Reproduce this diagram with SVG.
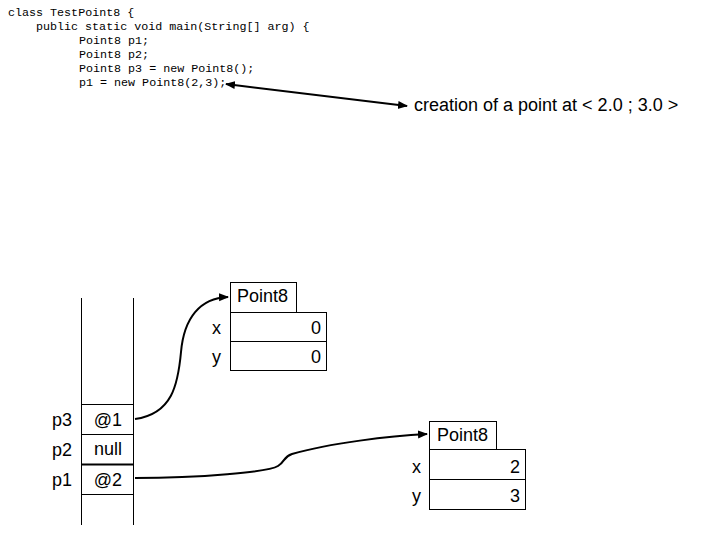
<svg xmlns="http://www.w3.org/2000/svg" width="720" height="540" viewBox="0 0 720 540">
<style>
.code{font-family:"Liberation Mono","Courier New",monospace;font-size:11.7px;fill:#000}
.t{font-family:"Liberation Sans",Arial,sans-serif;font-size:18px;fill:#000}
.box{fill:#fff;stroke:#000;stroke-width:1}
.ln{fill:none;stroke:#000;stroke-width:2}
</style>
<defs>
<marker id="ah" viewBox="0 0 10 10" refX="9" refY="5" markerWidth="5" markerHeight="5" orient="auto-start-reverse"><path d="M0,1 L10,5 L0,9 z" fill="#000"/></marker>
</defs>
<rect width="720" height="540" fill="#fff"/>
<g id="code">
<text class="code" x="8" y="16">class TestPoint8 {</text>
<text class="code" x="36" y="30">public static void main(String[] arg) {</text>
<text class="code" x="79" y="44">Point8 p1;</text>
<text class="code" x="79" y="58">Point8 p2;</text>
<text class="code" x="79" y="72">Point8 p3 = new Point8();</text>
<text class="code" x="79" y="86">p1 = new Point8(2,3);</text>
</g>
<g id="note">
<text class="t" x="414" y="111">creation of a point at &lt; 2.0 ; 3.0 &gt;</text>
</g>
<g id="stack">
<line x1="81.5" y1="298" x2="81.5" y2="525" stroke="#000"/>
<line x1="133.5" y1="298" x2="133.5" y2="525" stroke="#000"/>
<line x1="81.5" y1="404.5" x2="133.5" y2="404.5" stroke="#000"/>
<line x1="81.5" y1="434.5" x2="133.5" y2="434.5" stroke="#000"/>
<line x1="81.5" y1="464.5" x2="133.5" y2="464.5" stroke="#000" stroke-width="2"/>
<line x1="81.5" y1="494.5" x2="133.5" y2="494.5" stroke="#000"/>
<text class="t" x="52" y="426">p3</text>
<text class="t" x="52" y="456">p2</text>
<text class="t" x="52" y="486">p1</text>
<text class="t" x="108" y="426" text-anchor="middle">@1</text>
<text class="t" x="108" y="455" text-anchor="middle">null</text>
<text class="t" x="108" y="486" text-anchor="middle">@2</text>
</g>
<g id="point1">
<rect class="box" x="230.5" y="282.5" width="66" height="30"/>
<rect class="box" x="230.5" y="312.5" width="96" height="29"/>
<rect class="box" x="230.5" y="341.5" width="96" height="29"/>
<text class="t" x="237" y="302">Point8</text>
<text class="t" x="212" y="334">x</text>
<text class="t" x="212" y="363">y</text>
<text class="t" x="321" y="334" text-anchor="end">0</text>
<text class="t" x="321" y="363" text-anchor="end">0</text>
</g>
<g id="point2">
<rect class="box" x="429.5" y="421.5" width="67" height="28"/>
<rect class="box" x="429.5" y="449.5" width="96" height="30"/>
<rect class="box" x="429.5" y="479.5" width="96" height="30"/>
<text class="t" x="437" y="441">Point8</text>
<text class="t" x="412" y="473">x</text>
<text class="t" x="412" y="502">y</text>
<text class="t" x="520" y="473" text-anchor="end">2</text>
<text class="t" x="520" y="502" text-anchor="end">3</text>
</g>
<g id="connectors">
<path class="ln" d="M226,84 L407,106" marker-start="url(#ah)" marker-end="url(#ah)"/>
<path class="ln" d="M135,419 C172,414 178,385 181,352 C184,318 200,298 228,297" marker-end="url(#ah)"/>
<path class="ln" d="M135,478 C200,478 268,472 278,466 C285,462 283,457 292,454 C330,443 390,436 427,434" marker-end="url(#ah)"/>
</g>
</svg>
